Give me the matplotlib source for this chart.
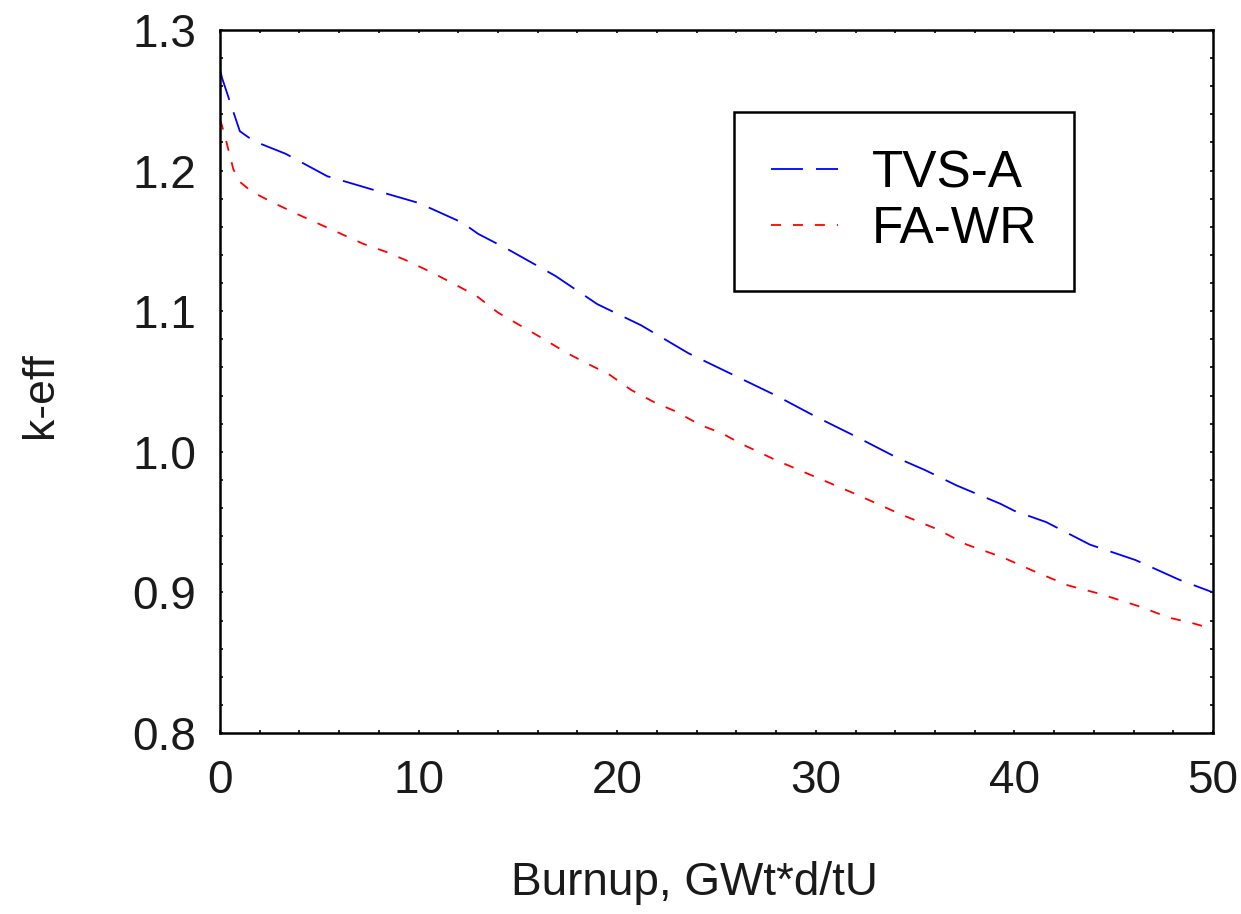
import matplotlib
matplotlib.use("Agg")
import matplotlib.pyplot as plt
from matplotlib.ticker import MultipleLocator

plt.rcParams['font.family'] = ['Liberation Sans', 'DejaVu Sans']
plt.rcParams['lines.scale_dashes'] = False

# Data: burnup (GWt*d/tU) vs k-eff
tvs_a_x = [0, 0.1, 0.5, 1.0, 1.7, 3.3, 5.4, 7.8, 10.0, 12.2, 13.0, 14.5, 16.9, 19.0,
           21.2, 23.6, 25.8, 28, 30, 32, 34.2, 35.5, 37.1, 39.3, 40.0, 41.6, 43.8,
           46.1, 48.3, 50]
tvs_a_y = [1.272, 1.266, 1.249, 1.228, 1.221, 1.212, 1.196, 1.186, 1.177, 1.163, 1.155,
           1.144, 1.125, 1.105, 1.090, 1.070, 1.055, 1.040, 1.025, 1.011, 0.995, 0.987,
           0.976, 0.963, 0.958, 0.950, 0.934, 0.923, 0.909, 0.900]

fa_wr_x = [0, 0.1, 0.33, 0.67, 1.0, 1.6, 2.7, 3.9, 6.1, 7.2, 8.4, 9.4, 10.6, 11.7, 12.9,
           14.0, 15.1, 16.2, 17.5, 18.6, 19.6, 20.7, 21.9, 22.9, 24.2, 25.3, 26.2, 28,
           30, 32, 34.2, 36.1, 37.6, 39.4, 41.0, 42.7, 44.3, 46.3, 47.8, 49.0, 50]
fa_wr_y = [1.236, 1.232, 1.220, 1.201, 1.192, 1.185, 1.177, 1.169, 1.155, 1.148, 1.142,
           1.136, 1.128, 1.120, 1.111, 1.099, 1.090, 1.081, 1.070, 1.062, 1.055, 1.044,
           1.035, 1.029, 1.019, 1.013, 1.006, 0.994, 0.982, 0.970, 0.956, 0.945, 0.934,
           0.925, 0.915, 0.905, 0.899, 0.890, 0.882, 0.878, 0.874]

labels = ["TVS-A", "FA-WR"]
x_ticks = [0, 10, 20, 30, 40, 50]
y_ticks = [0.8, 0.9, 1.0, 1.1, 1.2, 1.3]

fig = plt.figure(figsize=(12.41, 9.14), dpi=100)
ax = fig.add_axes([220/1241, 1-733/914, 993/1241, 703/914])

ax.plot(tvs_a_x, tvs_a_y, color='#0000FF', lw=1.3, linestyle=(0, (23, 9.4)), label=labels[0])
ax.plot(fa_wr_x, fa_wr_y, color='#FF0000', lw=1.3, linestyle=(0, (7.2, 8.6)), label=labels[1])

ax.set_xlim(0, 50)
ax.set_ylim(0.8, 1.3)
ax.set_xticks(x_ticks)
ax.set_yticks(y_ticks)
ax.set_yticklabels([f"{v:.1f}" for v in y_ticks])
ax.xaxis.set_minor_locator(MultipleLocator(2))
ax.yaxis.set_minor_locator(MultipleLocator(0.02))
ax.tick_params(which='both', direction='in', top=True, right=True, length=2.5, width=1.2)
ax.tick_params(axis='y', which='major', labelsize=33, pad=17, labelcolor='#1a1a1a')
ax.tick_params(axis='x', which='major', labelsize=33, pad=19, labelcolor='#1a1a1a')
for s in ax.spines.values():
    s.set_linewidth(1.8)

ax.set_xlabel("Burnup, GWt*d/tU", fontsize=33, va='center', color='#1a1a1a')
ax.xaxis.set_label_coords(0.478, -0.2134)
ax.set_ylabel("k-eff", fontsize=32, va='center', color='#1a1a1a')
ax.yaxis.set_label_coords(-0.181, 0.481)

leg = ax.legend(loc='center', bbox_to_anchor=(0.6888, 0.756), fontsize=37,
                frameon=True, fancybox=False, shadow=False, borderpad=0.72,
                handlelength=1.3, handletextpad=0.65, labelspacing=0.12,
                borderaxespad=0)
leg.get_frame().set_edgecolor('black')
leg.get_frame().set_linewidth(1.8)
leg.get_frame().set_alpha(None)
leg.get_frame().set_facecolor('white')

fig.savefig("out.png", dpi=100)
